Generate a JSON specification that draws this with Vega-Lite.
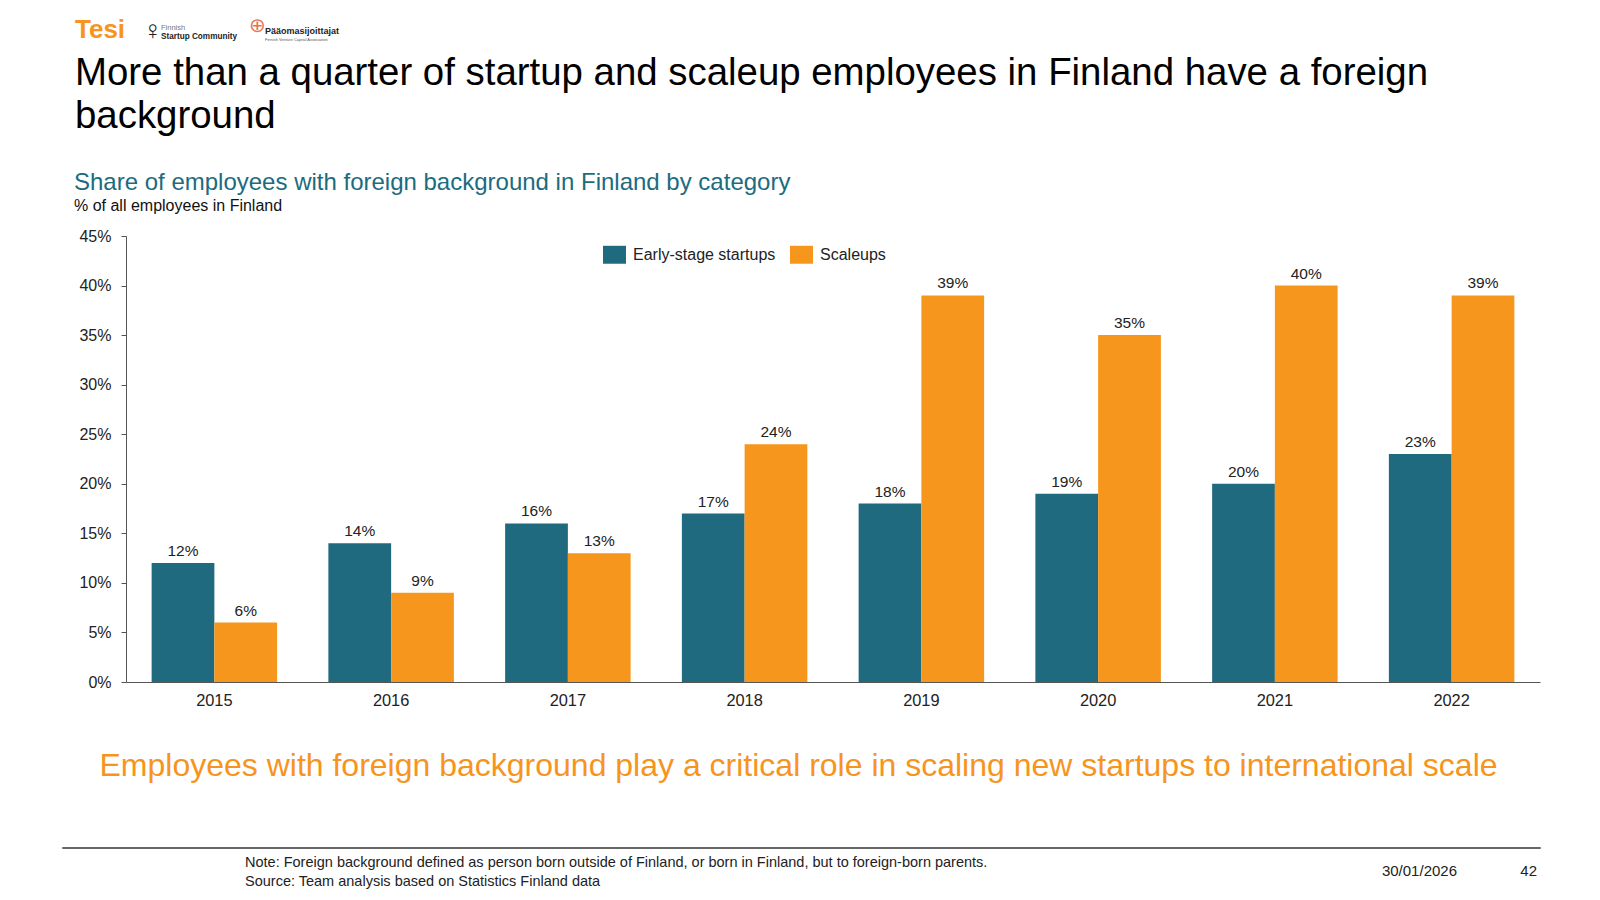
{
  "$schema": "https://vega.github.io/schema/vega-lite/v6.json",
  "background": "white",
  "padding": {"left": 61, "right": 61, "top": 16, "bottom": 8},
  "bounds": "flush",
  "spacing": 0,
  "config": {
    "font": "Liberation Sans",
    "view": {"stroke": null},
    "title": {"fontWeight": "normal", "anchor": "start", "frame": "group"}
  },
  "vconcat": [
    {
      "bounds": "flush",
      "spacing": 0,
      "hconcat": [
        {
          "width": 80, "height": 95,
          "data": {"values": [{}]},
          "mark": "text",
          "encoding": {"text": {"value": ""}},
          "title": {"text": "Tesi", "dx": 13, "offset": 2, "fontSize": 26, "fontWeight": "bold", "color": "#f7941d"}
        },
        {
          "width": 18, "height": 95,
          "data": {"values": [{}]},
          "mark": "text",
          "encoding": {"text": {"value": ""}},
          "title": {"text": "♀", "dx": 1, "offset": 1, "fontSize": 26, "color": "#222222"}
        },
        {
          "width": 88, "height": 95,
          "data": {"values": [{}]},
          "mark": "text",
          "encoding": {"text": {"value": ""}},
          "title": {"text": "Finnish", "subtitle": "Startup Community", "dx": 1, "offset": 5, "fontSize": 7.5, "color": "#777777", "subtitleFontSize": 8.2, "subtitleFontWeight": "bold", "subtitleColor": "#222222", "subtitlePadding": 1}
        },
        {
          "width": 16, "height": 95,
          "data": {"values": [{}]},
          "mark": "text",
          "encoding": {"text": {"value": ""}},
          "title": {"text": "⊕", "dx": 1, "offset": 9, "fontSize": 20, "color": "#e8744f"}
        },
        {
          "width": 150, "height": 95,
          "data": {"values": [{}]},
          "mark": "text",
          "encoding": {"text": {"value": ""}},
          "title": {"text": "Pääomasijoittajat", "subtitle": "Finnish Venture Capital Association", "dx": 1, "offset": 3, "fontSize": 9, "fontWeight": "bold", "color": "#222222", "subtitleFontSize": 4, "subtitleColor": "#555555", "subtitlePadding": 2}
        }
      ]
    },
    {
      "width": 1478, "height": 95,
      "data": {"values": [{}]},
      "mark": "text",
      "encoding": {"text": {"value": ""}}
    },
    {
      "width": 1478, "height": 96,
      "data": {"values": [{}]},
      "mark": "text",
      "encoding": {"text": {"value": ""}},
      "title": {
        "text": ["More than a quarter of startup and scaleup employees in Finland have a foreign", "background"],
        "dx": 13, "offset": 4, "fontSize": 38.4, "lineHeight": 42.6, "color": "#000000"
      }
    },
    {
      "bounds": "flush",
      "spacing": 0,
      "hconcat": [
        {
          "width": 64, "height": 446,
          "data": {"values": [{}]},
          "mark": "text",
          "encoding": {"text": {"value": ""}}
        },
        {
          "width": 1414, "height": 446,
          "data": {
            "values": [
              {"year": "2015", "category": "Early-stage startups", "share": 0.12},
              {"year": "2015", "category": "Scaleups", "share": 0.06},
              {"year": "2016", "category": "Early-stage startups", "share": 0.14},
              {"year": "2016", "category": "Scaleups", "share": 0.09},
              {"year": "2017", "category": "Early-stage startups", "share": 0.16},
              {"year": "2017", "category": "Scaleups", "share": 0.13},
              {"year": "2018", "category": "Early-stage startups", "share": 0.17},
              {"year": "2018", "category": "Scaleups", "share": 0.24},
              {"year": "2019", "category": "Early-stage startups", "share": 0.18},
              {"year": "2019", "category": "Scaleups", "share": 0.39},
              {"year": "2020", "category": "Early-stage startups", "share": 0.19},
              {"year": "2020", "category": "Scaleups", "share": 0.35},
              {"year": "2021", "category": "Early-stage startups", "share": 0.20},
              {"year": "2021", "category": "Scaleups", "share": 0.40},
              {"year": "2022", "category": "Early-stage startups", "share": 0.23},
              {"year": "2022", "category": "Scaleups", "share": 0.39}
            ]
          },
          "title": {
            "text": "Share of employees with foreign background in Finland by category",
            "subtitle": "% of all employees in Finland",
            "dx": -52, "offset": 14, "fontSize": 24, "color": "#1b6c7e",
            "subtitleFontSize": 16, "subtitleColor": "#111111", "subtitlePadding": 3
          },
          "encoding": {
            "x": {
              "field": "year", "type": "nominal",
              "scale": {"paddingInner": 0.29, "paddingOuter": 0.145},
              "axis": {
                "labelAngle": 0, "labelFontSize": 16.4, "labelColor": "#222222", "labelPadding": 10,
                "ticks": false, "domainColor": "#555555", "domainWidth": 1.2,
                "title": "Employees with foreign background play a critical role in scaling new startups to international scale",
                "titleFontSize": 32, "titleFontWeight": "normal", "titleColor": "#f7941d",
                "titleX": 672, "titleY": 93, "titleAlign": "center", "titleBaseline": "alphabetic"
              }
            },
            "xOffset": {"field": "category", "type": "nominal", "sort": ["Early-stage startups", "Scaleups"], "scale": {"paddingInner": 0}},
            "y": {
              "field": "share", "type": "quantitative",
              "scale": {"domain": [0, 0.45], "nice": false},
              "axis": {
                "values": [0, 0.05, 0.1, 0.15, 0.2, 0.25, 0.3, 0.35, 0.4, 0.45],
                "format": ".0%", "title": null, "grid": false,
                "labelFontSize": 16, "labelColor": "#222222", "labelPadding": 10,
                "tickSize": 5, "tickColor": "#555555", "domainColor": "#555555"
              }
            }
          },
          "layer": [
            {
              "mark": {"type": "bar"},
              "encoding": {
                "color": {
                  "field": "category", "type": "nominal",
                  "scale": {"domain": ["Early-stage startups", "Scaleups"], "range": ["#1f6a7f", "#f7961c"]},
                  "legend": {
                    "title": null, "orient": "none", "legendX": 541, "legendY": 198, "direction": "horizontal",
                    "symbolType": "M-1,-0.78H1V0.78H-1Z", "symbolSize": 529, "symbolStrokeWidth": 0,
                    "labelFontSize": 16, "labelColor": "#222222", "labelOffset": 7, "columnPadding": 14
                  }
                }
              }
            },
            {
              "mark": {"type": "text", "baseline": "alphabetic", "dy": -7, "fontSize": 15.5, "color": "#222222"},
              "encoding": {
                "text": {"field": "share", "type": "quantitative", "format": ".0%"}
              }
            }
          ]
        }
      ]
    },
    {
      "width": 1478, "height": 611,
      "data": {"values": [{}]},
      "mark": "text",
      "encoding": {"text": {"value": ""}}
    },
    {
      "bounds": "flush",
      "spacing": 0,
      "hconcat": [
        {
          "width": 1319, "height": 1,
          "view": {"stroke": "#666666", "strokeWidth": 1},
          "data": {"values": [{}]},
          "mark": "text",
          "encoding": {"text": {"value": ""}},
          "title": {
            "text": ["Note: Foreign background defined as person born outside of Finland, or born in Finland, but to foreign-born parents.", "Source: Team analysis based on Statistics Finland data"],
            "orient": "bottom", "dx": 183, "offset": 3, "fontSize": 14.5, "lineHeight": 19, "color": "#222222"
          }
        },
        {
          "width": 76, "height": 1,
          "view": {"stroke": "#666666", "strokeWidth": 1},
          "data": {"values": [{}]},
          "mark": "text",
          "encoding": {"text": {"value": ""}},
          "title": {"text": "30/01/2026", "orient": "bottom", "anchor": "end", "offset": 11, "fontSize": 15, "color": "#222222"}
        },
        {
          "width": 83, "height": 1,
          "view": {"stroke": "#666666", "strokeWidth": 1},
          "data": {"values": [{}]},
          "mark": "text",
          "encoding": {"text": {"value": ""}},
          "title": {"text": "42", "orient": "bottom", "anchor": "end", "dx": -3, "offset": 11, "fontSize": 15, "color": "#222222"}
        }
      ]
    }
  ]
}
